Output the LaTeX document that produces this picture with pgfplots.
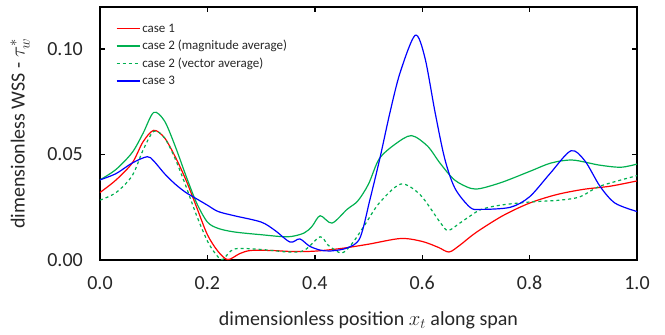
\documentclass[border=0pt]{standalone}
\usepackage{pgfplots}
\pgfplotsset{compat=1.18}
\usepackage{fontspec}
\setmainfont{Carlito}
\definecolor{cred}{RGB}{255,0,0}
\definecolor{cgreen}{RGB}{0,176,80}
\definecolor{cblue}{RGB}{0,0,255}
\begin{document}
\begin{tikzpicture}
\begin{axis}[
  scale only axis, width=537bp, height=253bp,
  xmin=0, xmax=1, ymin=0, ymax=0.12,
  xtick={0,0.2,0.4,0.6,0.8,1.0},
  xticklabels={0.0,0.2,0.4,0.6,0.8,1.0},
  ytick={0,0.05,0.10},
  yticklabels={0.00,0.05,0.10},
  scaled y ticks=false, scaled x ticks=false,
  tick align=inside, major tick length=5bp,
  tick style={black, line width=1.4bp},
  axis line style={black, line width=1.8bp},
  xticklabel style={anchor=center, yshift=-23bp, inner sep=0pt, text=black!85, font=\fontsize{20bp}{24bp}\selectfont},
  yticklabel style={anchor=east, xshift=-17bp, inner sep=0pt, text=black!85, font=\fontsize{20bp}{24bp}\selectfont},
  xlabel={dimensionless position $x_t$ along span},
  ylabel={dimensionless WSS - $\tau^*_w$},
  xlabel style={at={(rel axis cs:0.5,-0.237)}, anchor=center, text=black!85, font=\fontsize{20bp}{24bp}\selectfont},
  ylabel style={at={(rel axis cs:-0.149,0.5)}, anchor=center, text=black!85, font=\fontsize{20bp}{24bp}\selectfont},
  legend style={draw=none, fill=none, at={(rel axis cs:0.024,0.95)}, anchor=north west,
    font=\fontsize{13bp}{15bp}\selectfont, row sep=2.8bp, text=black!85},
  legend cell align=left,
  legend image code/.code={\draw[#1] (0bp,0bp) -- (23bp,0bp);},
  every axis plot/.append style={line width=1.2bp, smooth, tension=0.5},
]
\addplot[cred] coordinates {
(0.00,0.032) (0.03,0.038) (0.06,0.046) (0.08,0.056) (0.10,0.0615) (0.12,0.058)
(0.14,0.049) (0.16,0.038) (0.18,0.025) (0.20,0.012) (0.22,0.004) (0.238,0.0002)
(0.26,0.003) (0.28,0.0045) (0.32,0.0045) (0.36,0.004) (0.40,0.0042) (0.45,0.0055)
(0.50,0.0075) (0.56,0.0102) (0.60,0.0088) (0.63,0.006) (0.65,0.0038) (0.67,0.007)
(0.70,0.013) (0.75,0.021) (0.80,0.027) (0.85,0.031) (0.90,0.0335) (0.95,0.035) (1.00,0.0375)
};
\addlegendentry{case 1}
\addplot[cgreen] coordinates {
(0.00,0.038) (0.03,0.043) (0.06,0.051) (0.08,0.060) (0.10,0.070) (0.12,0.066)
(0.14,0.054) (0.16,0.040) (0.18,0.027) (0.20,0.018) (0.22,0.0150) (0.25,0.0133)
(0.30,0.012) (0.35,0.011) (0.38,0.0128) (0.395,0.016) (0.41,0.021) (0.432,0.0175)
(0.46,0.024) (0.48,0.028) (0.50,0.036) (0.52,0.048) (0.55,0.055) (0.58,0.059)
(0.61,0.054) (0.633,0.046) (0.66,0.038) (0.69,0.034) (0.71,0.034) (0.75,0.037)
(0.80,0.042) (0.84,0.046) (0.88,0.0474) (0.93,0.045) (0.97,0.044) (1.00,0.0455)
};
\addlegendentry{case 2 (magnitude average)}
\addplot[cgreen, dashed] coordinates {
(0.00,0.0284) (0.03,0.032) (0.06,0.040) (0.08,0.052) (0.10,0.061) (0.12,0.058)
(0.14,0.048) (0.16,0.035) (0.18,0.021) (0.20,0.009) (0.215,0.003) (0.228,0.0002)
(0.25,0.0052) (0.30,0.005) (0.35,0.0038) (0.38,0.0045) (0.41,0.011) (0.425,0.007)
(0.45,0.0033) (0.47,0.008) (0.493,0.0166) (0.52,0.027) (0.56,0.036) (0.596,0.031)
(0.633,0.018) (0.648,0.014) (0.67,0.0175) (0.69,0.021) (0.71,0.024) (0.745,0.026)
(0.80,0.0275) (0.857,0.0284) (0.894,0.030) (0.931,0.035) (1.00,0.040)
};
\addlegendentry{case 2 (vector average)}
\addplot[cblue] coordinates {
(0.00,0.038) (0.03,0.041) (0.06,0.046) (0.088,0.049) (0.10,0.047) (0.12,0.041)
(0.14,0.036) (0.16,0.032) (0.18,0.029) (0.20,0.026) (0.22,0.023) (0.25,0.021)
(0.30,0.018) (0.326,0.014) (0.354,0.0085) (0.372,0.010) (0.39,0.0066) (0.41,0.0047)
(0.43,0.0043) (0.46,0.0057) (0.484,0.0104) (0.503,0.029) (0.521,0.048) (0.54,0.070)
(0.559,0.089) (0.587,0.1066) (0.605,0.096) (0.624,0.070) (0.642,0.048) (0.661,0.034)
(0.689,0.025) (0.708,0.024) (0.764,0.025) (0.80,0.030) (0.838,0.041) (0.877,0.0518)
(0.903,0.047) (0.931,0.035) (0.959,0.027) (1.00,0.023)
};
\addlegendentry{case 3}
\end{axis}
\path ([shift={(-100bp,-75bp)}]current axis.south west) rectangle ([shift={(28bp,7bp)}]current axis.north east);
\end{tikzpicture}
\end{document}
